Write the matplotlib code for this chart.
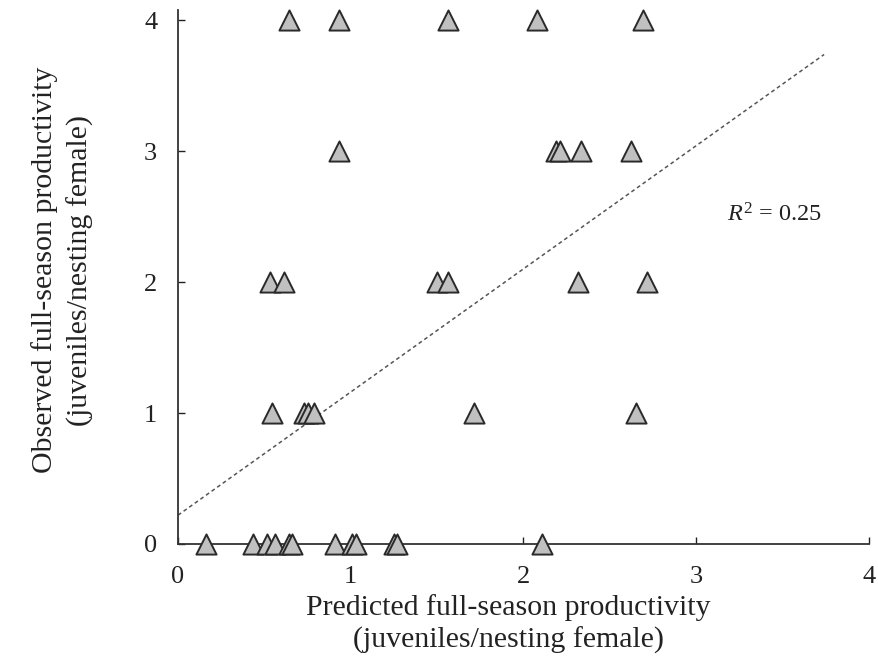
import matplotlib
matplotlib.use("Agg")
import matplotlib.pyplot as plt

plt.rcParams['font.family'] = ['Liberation Serif', 'DejaVu Serif']
plt.rcParams['mathtext.fontset'] = 'custom'
plt.rcParams['mathtext.rm'] = 'Liberation Serif'
plt.rcParams['mathtext.it'] = 'Liberation Serif:italic'

# predicted (x) vs observed (y) full-season productivity
predicted = [0.645, 0.932, 1.561, 2.081, 2.692,
             0.932, 2.188, 2.214, 2.330, 2.622,
             0.531, 0.616, 1.500, 1.563, 2.315, 2.713,
             0.544, 0.730, 0.755, 0.785, 1.712, 2.652,
             0.163, 0.436, 0.513, 0.559, 0.645, 0.660, 0.909, 1.010, 1.030,
             1.248, 1.270, 2.108]
observed = [4] * 5 + [3] * 5 + [2] * 6 + [1] * 6 + [0] * 12

# fitted line (dotted)
line_x = [0, 3.74]
line_y = [0.22, 3.74]
r2_text = r"$R^2$ = 0.25"

ticks = [0, 1, 2, 3, 4]

fig = plt.figure(figsize=(8.79, 6.56), dpi=100)
ax = fig.add_axes([178 / 879, 1 - 544 / 656, 691 / 879, 534 / 656])

ax.plot(line_x, line_y, linestyle=(0, (2.5, 2)), color='#555555', lw=1.1, zorder=2)
ax.scatter(predicted, observed, marker='^', s=14.5 ** 2, facecolor='#c0c0c0',
           edgecolor='#2a2a2a', linewidth=1.4, zorder=3, clip_on=False)

ax.text(3.18, 2.515, r2_text, fontsize=17.5, va='center', ha='left', color='#222222')

ax.set_xlim(0, 4)
ax.set_ylim(0, 4.08)
ax.set_xticks(ticks)
ax.set_yticks(ticks)
ax.tick_params(direction='in', length=5, width=1, labelsize=19, colors='#222222')
ax.tick_params(axis='y', pad=15)
ax.tick_params(axis='x', pad=16)
for s in ['top', 'right']:
    ax.spines[s].set_visible(False)
for s in ['left', 'bottom']:
    ax.spines[s].set_linewidth(1.3)
    ax.spines[s].set_color('#333333')

ax.set_xlabel("Predicted full-season productivity\n(juveniles/nesting female)",
              fontsize=21.5, color='#222222', linespacing=1.25)
ax.xaxis.set_label_coords(0.478, -0.094, transform=ax.transAxes)
ax.xaxis.label.set_va('top')
ax.set_ylabel("Observed full-season productivity\n(juveniles/nesting female)",
              fontsize=21.5, color='#222222', linespacing=1.4)
ax.yaxis.set_label_coords(-0.122, 0.513, transform=ax.transAxes)

fig.savefig("out.png", dpi=100)
